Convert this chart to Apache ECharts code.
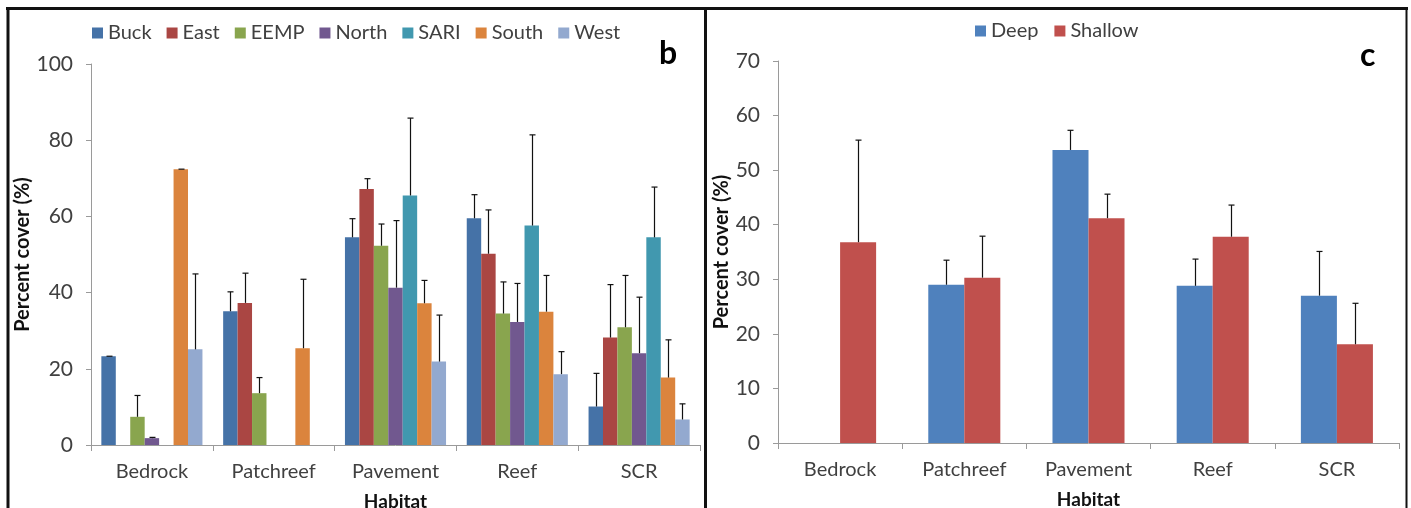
<!DOCTYPE html>
<html><head><meta charset="utf-8">
<script src="https://cdn.jsdelivr.net/npm/echarts@6/dist/echarts.min.js"></script>
<style>html,body{margin:0;padding:0;background:#fff}#c{width:1411px;height:508px}</style>
</head><body><div id="c"></div>
<script>
// ---- data ----
const habitats = ['Bedrock', 'Patchreef', 'Pavement', 'Reef', 'SCR'];
const siteNames = ['Buck', 'East', 'EEMP', 'North', 'SARI', 'South', 'West'];
const buck = [23.3, 35.1, 54.5, 59.5, 10.1];
const buckErr = [0, 5.1, 4.9, 6.2, 8.7];
const east = [null, 37.3, 67.2, 50.2, 28.2];
const eastErr = [null, 7.8, 2.7, 11.5, 13.9];
const eemp = [7.4, 13.6, 52.3, 34.5, 30.9];
const eempErr = [5.6, 4.1, 5.7, 8.3, 13.6];
const north = [1.8, null, 41.3, 32.3, 24.1];
const northErr = [0.2, null, 17.6, 10.1, 14.7];
const sari = [null, null, 65.5, 57.6, 54.5];
const sariErr = [null, null, 20.3, 23.8, 13.2];
const south = [72.4, 25.4, 37.2, 35.0, 17.7];
const southErr = [0, 18.1, 6.0, 9.5, 9.9];
const west = [25.1, null, 21.9, 18.6, 6.7];
const westErr = [19.8, null, 12.2, 5.9, 4.1];

const depthNames = ['Deep', 'Shallow'];
const deep = [null, 29.0, 53.7, 28.8, 27.0];
const deepErr = [null, 4.5, 3.6, 4.9, 8.1];
const shallow = [36.8, 30.3, 41.2, 37.8, 18.1];
const shallowErr = [18.7, 7.6, 4.4, 5.8, 7.5];

const leftTicks = {min: 0, max: 100, interval: 20};
const rightTicks = {min: 0, max: 70, interval: 10};

// ---- styling ----
const FONT = 'Lato';
const TXT = '#404040';
const AX = '#9a9a9a';
const siteColors = ['#4572A7', '#AA4643', '#89A54E', '#71588F', '#4198AF', '#DB843D', '#93A9CF'];
const depthColors = ['#4F81BD', '#C0504D'];

const chart = echarts.init(document.getElementById('c'), null, {renderer: 'canvas'});

function errSeries(name, gridIdx, vals, errs, i, n, gapFrac) {
  const data = [];
  vals.forEach((v, k) => { if (v != null && errs[k] != null) data.push([k, v, errs[k]]); });
  return {
    type: 'custom', name: name + ' err', xAxisIndex: gridIdx, yAxisIndex: gridIdx,
    silent: true, z: 5, legendHoverLink: false,
    data: data,
    renderItem: function (params, api) {
      const k = api.value(0), v = api.value(1), e = api.value(2);
      const base = api.coord([k, v]);
      const top = api.coord([k, v + e]);
      const catW = api.size([1, 0])[0];
      const groupW = catW * (1 - gapFrac);
      const barW = groupW / n;
      const x = Math.round(base[0] - groupW / 2 + barW * (i + 0.5)) + 0.5;
      const st = {stroke: '#111', lineWidth: 1.2};
      return {type: 'group', children: [
        {type: 'line', shape: {x1: x, y1: base[1], x2: x, y2: top[1]}, style: st},
        {type: 'line', shape: {x1: x - 3, y1: top[1], x2: x + 3, y2: top[1]}, style: st}
      ]};
    }
  };
}

const leftVals = [buck, east, eemp, north, sari, south, west];
const leftErrs = [buckErr, eastErr, eempErr, northErr, sariErr, southErr, westErr];
const rightVals = [deep, shallow];
const rightErrs = [deepErr, shallowErr];
const LGAP = 0.17, RGAP = 0.42;

const series = [];
siteNames.forEach((nm, i) => {
  series.push({type: 'bar', name: nm, xAxisIndex: 0, yAxisIndex: 0, data: leftVals[i],
    barGap: '0%', barCategoryGap: (LGAP * 100) + '%', itemStyle: {color: siteColors[i]}});
});
depthNames.forEach((nm, i) => {
  series.push({type: 'bar', name: nm, xAxisIndex: 1, yAxisIndex: 1, data: rightVals[i],
    barGap: '0%', barCategoryGap: (RGAP * 100) + '%', itemStyle: {color: depthColors[i]}});
});
siteNames.forEach((nm, i) => series.push(errSeries(nm, 0, leftVals[i], leftErrs[i], i, siteNames.length, LGAP)));
depthNames.forEach((nm, i) => series.push(errSeries(nm, 1, rightVals[i], rightErrs[i], i, depthNames.length, RGAP)));

function xAx(gi) {
  return {type: 'category', gridIndex: gi, data: habitats,
    name: 'Habitat', nameLocation: 'middle', nameGap: 47,
    nameTextStyle: {fontFamily: FONT, fontWeight: 'bold', fontSize: 19, color: '#111'},
    axisLine: {lineStyle: {color: AX, width: 1}},
    axisTick: {show: true, length: 6, lineStyle: {color: AX}},
    axisLabel: {fontFamily: FONT, fontSize: 20, color: TXT, margin: 17},
    splitLine: {show: false}};
}
function yAx(gi, t, gap) {
  return {type: 'value', gridIndex: gi, min: t.min, max: t.max, interval: t.interval,
    name: 'Percent cover (%)', nameLocation: 'middle', nameGap: gap,
    nameTextStyle: {fontFamily: FONT, fontWeight: 'bold', fontSize: 20, color: '#111'},
    axisLine: {show: true, lineStyle: {color: AX, width: 1}},
    axisTick: {show: true, length: 5, lineStyle: {color: AX}},
    axisLabel: {fontFamily: FONT, fontSize: 21, color: TXT, margin: 18},
    splitLine: {show: false}};
}

chart.setOption({
  animation: false,
  backgroundColor: '#fff',
  legend: [
    {data: siteNames, left: 87, top: 18, icon: 'rect', itemWidth: 11, itemHeight: 11, itemGap: 15,
      textStyle: {fontFamily: FONT, fontSize: 20, color: TXT}, selectedMode: false},
    {data: depthNames, left: 970, top: 16, icon: 'rect', itemWidth: 11, itemHeight: 11, itemGap: 16,
      textStyle: {fontFamily: FONT, fontSize: 20, color: TXT}, selectedMode: false}
  ],
  grid: [
    {left: 91, top: 64, width: 609, height: 381, containLabel: false, outerBoundsMode: 'none'},
    {left: 778, top: 61, width: 621, height: 382, containLabel: false, outerBoundsMode: 'none'}
  ],
  xAxis: [xAx(0), xAx(1)],
  yAxis: [yAx(0, leftTicks, 56), yAx(1, rightTicks, 45)],
  series: series,
  graphic: [
    {type: 'line', shape: {x1: 6, y1: 8.5, x2: 1408, y2: 8.5}, style: {stroke: '#111', lineWidth: 3}},
    {type: 'line', shape: {x1: 8, y1: 8, x2: 8, y2: 508}, style: {stroke: '#111', lineWidth: 3}},
    {type: 'line', shape: {x1: 705.5, y1: 8, x2: 705.5, y2: 508}, style: {stroke: '#111', lineWidth: 3}},
    {type: 'line', shape: {x1: 1406.5, y1: 8, x2: 1406.5, y2: 508}, style: {stroke: '#111', lineWidth: 2}},
    {type: 'text', left: 659, top: 38, style: {text: 'b', fontFamily: FONT, fontWeight: 'bold', fontSize: 32, fill: '#000'}},
    {type: 'text', left: 1360, top: 40, style: {text: 'c', fontFamily: FONT, fontWeight: 'bold', fontSize: 32, fill: '#000'}}
  ]
});
</script></body></html>
